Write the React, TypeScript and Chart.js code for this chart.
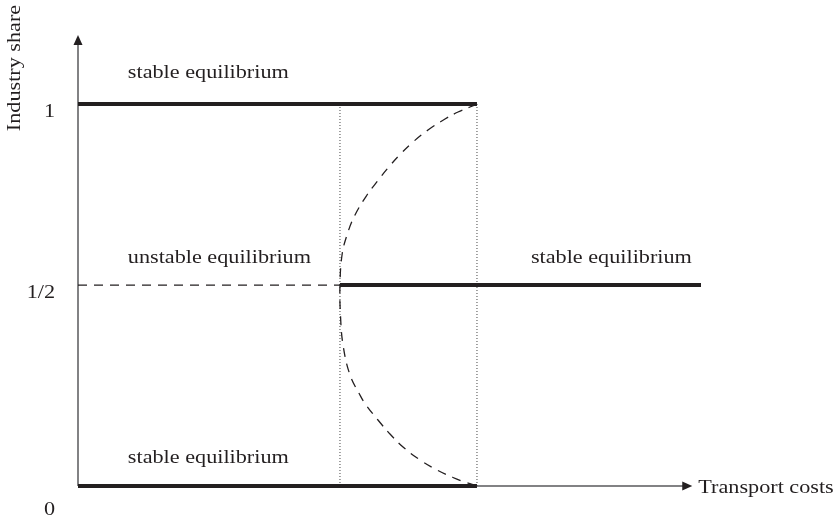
import React, { useEffect, useRef } from "react";
import { Chart, registerables } from "chart.js";

Chart.register(...registerables);

// ---- data (schematic values) ----
const yTickValues = [0, 0.526, 1];
const yTickLabels = ["0", "1/2", "1"];
const breakPoint = 0.4205;
const sustainPoint = 0.6404;
const halfShare = 0.526;
const midStableEnd = 1.0;
const axisEnd = 0.986;

const curveX = [
  0.6404, 0.6292, 0.61, 0.5891, 0.5618, 0.5377, 0.5169, 0.4976, 0.4815, 0.4639, 0.4446, 0.4318, 0.4238, 0.4205,
  0.4213, 0.4254, 0.4366, 0.4526, 0.4623, 0.4815, 0.5008, 0.5217, 0.549, 0.5762, 0.6019, 0.6228, 0.6404,
];
const curveY = [
  1.0, 0.9921, 0.9791, 0.9607, 0.9319, 0.9005, 0.8678, 0.8325, 0.7997, 0.7618, 0.7094, 0.6571, 0.6047, 0.526,
  0.4476, 0.3691, 0.2906, 0.2382, 0.212, 0.1728, 0.1361, 0.1021, 0.0681, 0.0419, 0.0223, 0.0092, 0.0,
];

const labelTexts = ["stable equilibrium", "unstable equilibrium", "stable equilibrium", "stable equilibrium"];
const labelX = [0.08, 0.08, 0.727, 0.08];
const labelY = [1.068, 0.584, 0.584, 0.06];
const xAxisTitle = "Transport costs";
const yAxisTitle = "Industry share";

// ---- styles ----
const INK = "#231f20";
const AXIS = "#5a5a5c";
const FONT = '18.5px "Liberation Serif", "Times New Roman", serif';
const SX = 1.2;

function drawText(ctx: CanvasRenderingContext2D, text: string, x: number, y: number, align: CanvasTextAlign) {
  ctx.save();
  ctx.translate(x, y);
  ctx.scale(SX, 1);
  ctx.textAlign = align;
  ctx.textBaseline = "alphabetic";
  ctx.fillText(text, 0, 0);
  ctx.restore();
}

const axesPlugin = {
  id: "axesPlugin",
  beforeDatasetsDraw(chart: any) {
    const ctx: CanvasRenderingContext2D = chart.ctx;
    const xs = chart.scales.x;
    const ys = chart.scales.y;
    const x0 = xs.getPixelForValue(0);
    const y0 = ys.getPixelForValue(0);
    const xEnd = xs.getPixelForValue(axisEnd);
    const yTop = 35;
    ctx.save();
    ctx.strokeStyle = AXIS;
    ctx.lineWidth = 1.5;
    ctx.beginPath();
    ctx.moveTo(x0, y0);
    ctx.lineTo(x0, yTop + 6);
    ctx.moveTo(x0, y0);
    ctx.lineTo(xEnd - 6, y0);
    ctx.stroke();
    ctx.fillStyle = INK;
    ctx.beginPath();
    ctx.moveTo(x0, yTop);
    ctx.lineTo(x0 - 4.5, yTop + 10);
    ctx.lineTo(x0 + 4.5, yTop + 10);
    ctx.closePath();
    ctx.fill();
    ctx.beginPath();
    ctx.moveTo(xEnd, y0);
    ctx.lineTo(xEnd - 10, y0 - 4.5);
    ctx.lineTo(xEnd - 10, y0 + 4.5);
    ctx.closePath();
    ctx.fill();
    ctx.restore();
  },
  afterDraw(chart: any) {
    const ctx: CanvasRenderingContext2D = chart.ctx;
    const xs = chart.scales.x;
    const ys = chart.scales.y;
    ctx.save();
    ctx.fillStyle = INK;
    ctx.font = FONT;
    labelTexts.forEach((t, i) => {
      drawText(ctx, t, xs.getPixelForValue(labelX[i]), ys.getPixelForValue(labelY[i]), "left");
    });
    yTickValues.forEach((v, i) => {
      const off = v === 0 ? 29 : 13;
      drawText(ctx, yTickLabels[i], 55, ys.getPixelForValue(v) + off, "right");
    });
    drawText(ctx, xAxisTitle, xs.getPixelForValue(axisEnd) + 6, ys.getPixelForValue(0) + 7, "left");
    // y title rotated
    ctx.save();
    ctx.translate(20, 68);
    ctx.rotate(-Math.PI / 2);
    ctx.scale(SX, 1);
    ctx.textAlign = "center";
    ctx.textBaseline = "alphabetic";
    ctx.fillText(yAxisTitle, 0, 0);
    ctx.restore();
    ctx.restore();
  },
};

export default function App() {
  const ref = useRef<HTMLCanvasElement | null>(null);
  useEffect(() => {
    document.body.style.margin = "0";
    if (!ref.current) return;
    const thick = { borderColor: INK, borderWidth: 4, borderCapStyle: "butt", pointRadius: 0, showLine: true, clip: false, fill: false };
    const chart = new Chart(ref.current, {
      type: "scatter",
      data: {
        datasets: [
          { ...thick, data: [{ x: 0, y: 1 }, { x: sustainPoint, y: 1 }] },
          { ...thick, data: [{ x: 0, y: 0 }, { x: sustainPoint, y: 0 }] },
          { ...thick, data: [{ x: breakPoint, y: halfShare }, { x: midStableEnd, y: halfShare }] },
          {
            data: [{ x: 0, y: halfShare }, { x: breakPoint, y: halfShare }],
            borderColor: INK, borderWidth: 1.2, borderDash: [9, 7], pointRadius: 0, showLine: true, clip: false,
          },
          {
            data: curveX.map((x, i) => ({ x, y: curveY[i] })),
            borderColor: INK, borderWidth: 1.3, borderDash: [9, 7], pointRadius: 0, showLine: true, tension: 0.4, clip: false,
          },
          {
            data: [{ x: breakPoint, y: 0 }, { x: breakPoint, y: 1 }],
            borderColor: "#444", borderWidth: 1, borderDash: [1, 2], pointRadius: 0, showLine: true, clip: false,
          },
          {
            data: [{ x: sustainPoint, y: 0 }, { x: sustainPoint, y: 1 }],
            borderColor: "#444", borderWidth: 1, borderDash: [1, 2], pointRadius: 0, showLine: true, clip: false,
          },
        ] as any,
      },
      options: {
        responsive: false,
        animation: false,
        layout: { padding: { left: 78, right: 138, top: 104, bottom: 34 } },
        scales: {
          x: { type: "linear", min: 0, max: 1, display: false },
          y: { type: "linear", min: 0, max: 1, display: false },
        },
        plugins: { legend: { display: false }, tooltip: { enabled: false } },
        events: [],
      },
      plugins: [axesPlugin],
    } as any);
    return () => chart.destroy();
  }, []);
  return (
    <div style={{ width: 839, height: 520, background: "#fff" }}>
      <canvas ref={ref} width={839} height={520} style={{ display: "block" }} />
    </div>
  );
}
